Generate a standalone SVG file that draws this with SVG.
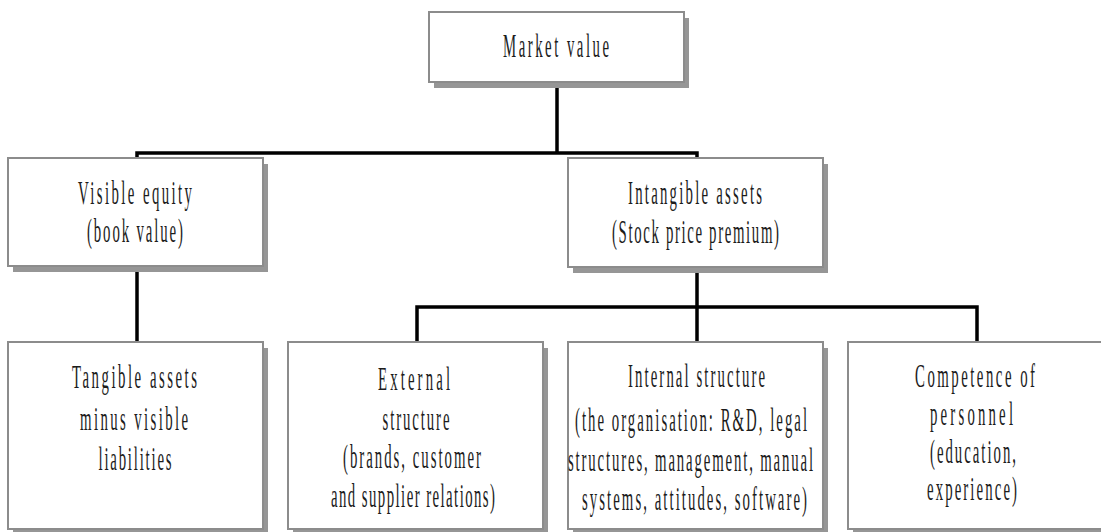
<svg xmlns="http://www.w3.org/2000/svg" width="1101" height="532" viewBox="0 0 1101 532">
  <style>
    .shadow { fill: #969696; }
    .box { fill: #ffffff; stroke: #8c8c8c; stroke-width: 2; }
    .lbl { font-family: "Liberation Serif", "Times New Roman", serif; font-size: 14.8px; fill: #1c1c1c; text-anchor: middle; }
    .conn { fill: none; stroke: #000; stroke-width: 3.5; stroke-linejoin: miter; stroke-linecap: square; }
  </style>
  <rect width="1101" height="532" fill="#ffffff"/>

  <!-- connectors -->
  <g id="connectors">
    <path class="conn" d="M557 88 V153 M137 153 H697 M137 153 V157 M697 153 V157"/>
    <path class="conn" d="M137 272 V341"/>
    <path class="conn" d="M697 273 V307 M417 307 H977 M417 307 V341 M697 307 V341 M977 307 V341"/>
  </g>

  <!-- top: market value -->
  <g id="market-value">
    <rect class="shadow" x="434" y="18" width="255" height="70"/>
    <rect class="box" x="429" y="12" width="255" height="70"/>
    <text class="lbl" transform="translate(556 56.5) scale(1 2.27)" textLength="106" lengthAdjust="spacing">Market value</text>
  </g>

  <!-- second level -->
  <g id="visible-equity">
    <rect class="shadow" x="13" y="164" width="255" height="108"/>
    <rect class="box" x="8" y="158" width="255" height="108"/>
    <text class="lbl" transform="translate(135 204) scale(1 2.27)" textLength="114" lengthAdjust="spacing">Visible equity</text>
    <text class="lbl" transform="translate(135 242) scale(1 2.27)" textLength="96" lengthAdjust="spacing">(book value)</text>
  </g>

  <g id="intangible-assets">
    <rect class="shadow" x="573" y="164" width="255" height="109"/>
    <rect class="box" x="568" y="158" width="255" height="109"/>
    <text class="lbl" transform="translate(695 204) scale(1 2.27)" textLength="134" lengthAdjust="spacing">Intangible assets</text>
    <text class="lbl" transform="translate(695.5 243) scale(1 2.27)" textLength="167" lengthAdjust="spacing">(Stock price premium)</text>
  </g>

  <!-- third level -->
  <g id="tangible-assets">
    <rect class="shadow" x="13" y="348" width="255" height="187"/>
    <rect class="box" x="8" y="342" width="255" height="187"/>
    <text class="lbl" transform="translate(134.5 388) scale(1 2.27)" textLength="125" lengthAdjust="spacing">Tangible assets</text>
    <text class="lbl" transform="translate(134 430) scale(1 2.27)" textLength="108" lengthAdjust="spacing">minus visible</text>
    <text class="lbl" transform="translate(135 470) scale(1 2.27)" textLength="73" lengthAdjust="spacing">liabilities</text>
  </g>

  <g id="external-structure">
    <rect class="shadow" x="293" y="348" width="255" height="187"/>
    <rect class="box" x="288" y="342" width="255" height="187"/>
    <text class="lbl" transform="translate(414 390) scale(1 2.27)" textLength="72" lengthAdjust="spacing">External</text>
    <text class="lbl" transform="translate(416 430) scale(1 2.27)" textLength="67" lengthAdjust="spacing">structure</text>
    <text class="lbl" transform="translate(412 468) scale(1 2.27)" textLength="138" lengthAdjust="spacing">(brands, customer</text>
    <text class="lbl" transform="translate(413 507) scale(1 2.27)" textLength="164" lengthAdjust="spacing">and supplier relations)</text>
  </g>

  <g id="internal-structure">
    <rect class="shadow" x="573" y="348" width="255" height="187"/>
    <rect class="box" x="568" y="342" width="255" height="187"/>
    <text class="lbl" transform="translate(696.5 387) scale(1 2.27)" textLength="137" lengthAdjust="spacing">Internal structure</text>
    <text class="lbl" transform="translate(691 431) scale(1 2.27)" textLength="232" lengthAdjust="spacing">(the organisation: R&amp;D, legal</text>
    <text class="lbl" transform="translate(690.5 471) scale(1 2.27)" textLength="245" lengthAdjust="spacing">structures, management, manual</text>
    <text class="lbl" transform="translate(694.5 510) scale(1 2.27)" textLength="225" lengthAdjust="spacing">systems, attitudes, software)</text>
  </g>

  <g id="competence-of-personnel">
    <rect class="shadow" x="853" y="348" width="255" height="187"/>
    <rect class="box" x="848" y="342" width="255" height="187"/>
    <text class="lbl" transform="translate(975 387) scale(1 2.27)" textLength="120" lengthAdjust="spacing">Competence of</text>
    <text class="lbl" transform="translate(971.5 425) scale(1 2.27)" textLength="83" lengthAdjust="spacing">personnel</text>
    <text class="lbl" transform="translate(973 463) scale(1 2.27)" textLength="86" lengthAdjust="spacing">(education,</text>
    <text class="lbl" transform="translate(972 500) scale(1 2.27)" textLength="90" lengthAdjust="spacing">experience)</text>
  </g>
</svg>
